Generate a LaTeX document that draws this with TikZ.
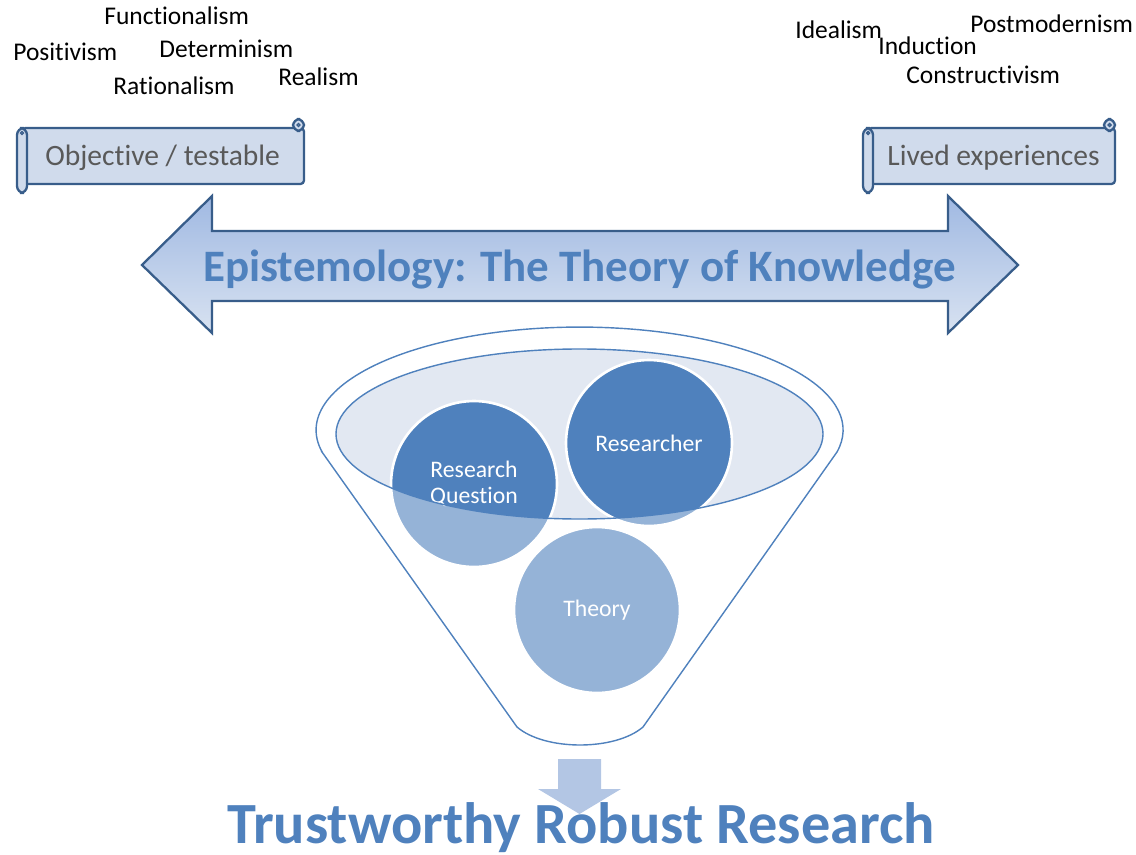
\documentclass[tikz,border=0pt]{standalone}
\usepackage{fontspec}
\setmainfont{Carlito}[Ligatures=NoCommon]
\usetikzlibrary{arrows.meta, calc}
\definecolor{epiblue}{RGB}{79,129,189}
\definecolor{scrolledge}{RGB}{56,93,138}
\definecolor{scrollfill}{RGB}{208,219,236}
\definecolor{arrowtop}{RGB}{160,185,226}
\definecolor{arrowbot}{RGB}{216,226,241}
\definecolor{openfill}{RGB}{226,232,242}
\definecolor{downfill}{RGB}{179,198,228}
\definecolor{textgray}{RGB}{89,89,89}
\newcommand{\funnelpath}{(322,452) -- (517,727) .. controls (545,751) and (615,751) .. (643,727) -- (837,452) arc[start angle=12.3, end angle=-192.3, x radius=263.5, y radius=103] -- cycle}

\begin{document}
\begin{tikzpicture}[x=0.02cm, y=-0.02cm,
        >=Stealth,
        every node/.style={inner sep=0pt},
        ism/.style={anchor=base west, font=\fontsize{14.5}{17}\selectfont},
        scrolltxt/.style={anchor=base west, text=textgray, font=\fontsize{16.8}{20}\selectfont},
        scrollpart/.style={fill=scrollfill, draw=scrolledge, line width=1.3pt},
        bubble/.style={circle, minimum size=3.32cm, fill=epiblue, draw=white, line width=1.5pt,
          text=white, align=center, font=\fontsize{13.5}{14.7}\selectfont},
        funnelline/.style={draw=epiblue, line width=0.8pt}]
        \useasboundingbox (0,0) rectangle (1136,855);

        % Positions on the left
        \node[ism] (functionalism) at (104,25) {Functionalism};
        \node[ism] (positivism) at (13,61) {Positivism};
        \node[ism] (determinism) at (159,58) {Determinism};
        \node[ism] (rationalism) at (113,95) {Rationalism};
        \node[ism] (realism) at (278,86) {Realism};

        % Positions on the right
        \node[ism] (idealism) at (795,39) {Idealism};
        \node[ism] (postmodernism) at (970,33) {Postmodernism};
        \node[ism] (induction) at (878,55) {Induction};
        \node[ism] (constructivism) at (906,84) {Constructivism};

        % Left scroll
        \filldraw[scrollpart, rounded corners=2] (22,128) rectangle (304,184);
        \filldraw[scrollpart, rounded corners=4] (293,131) rectangle (304,119);
        \draw[scrolledge, line width=0.8pt] (298.5,125) circle (1.5);
        \filldraw[scrollpart, rounded corners=4] (17,128) rectangle (27,193);
        \draw[scrolledge, line width=0.8pt] (22,133) circle (1.5);
        \node[scrolltxt] (objective) at (45,166) {Objective / testable};

        % Right scroll
        \filldraw[scrollpart, rounded corners=2] (868,128) rectangle (1115,184);
        \filldraw[scrollpart, rounded corners=4] (1104,131) rectangle (1115,119);
        \draw[scrolledge, line width=0.8pt] (1109.5,125) circle (1.5);
        \filldraw[scrollpart, rounded corners=4] (863,128) rectangle (873,193);
        \draw[scrolledge, line width=0.8pt] (868,133) circle (1.5);
        \node[scrolltxt] (lived) at (887,166) {Lived experiences};

        % Double arrow
        \shadedraw[top color=arrowtop, bottom color=arrowbot, draw=scrolledge, line width=1.3pt, line join=miter]
          (142,265) -- (212,196) -- (212,231) -- (948,231) -- (948,196) -- (1018,265)
          -- (948,333) -- (948,301) -- (212,301) -- (212,333) -- cycle;
        \node[anchor=base west, text=epiblue, font=\fontsize{25.6}{30}\selectfont\bfseries] (epi) at (203,281)
          {Epistemology: The Theory of Knowledge};

        % Funnel
        \fill[white] \funnelpath;
        \fill[openfill] (579.5,434) ellipse [x radius=243.5, y radius=85];
        \node[bubble] (question) at (474,484) {Research\\Question};
        \node[bubble] (researcher) at (649,443) {Researcher};
        \node[bubble] (theory) at (597,610) {Theory};
        \begin{scope}
          \clip \funnelpath;
          \fill[white, fill opacity=0.4, even odd rule] (0,300) rectangle (1136,760)
            (579.5,434) ellipse [x radius=243.5, y radius=85];
        \end{scope}
        \draw[funnelline] (579.5,434) ellipse [x radius=243.5, y radius=85];
        \draw[funnelline] \funnelpath;

        % Result
        \fill[downfill] (558,759) -- (601,759) -- (601,789) -- (621,789) -- (579.5,814)
          -- (538,789) -- (558,789) -- cycle;
        \node[anchor=base west, text=epiblue, font=\fontsize{33.2}{38}\selectfont\bfseries] (result) at (227,843)
          {Trustworthy Robust Research};

\end{tikzpicture}
\end{document}
